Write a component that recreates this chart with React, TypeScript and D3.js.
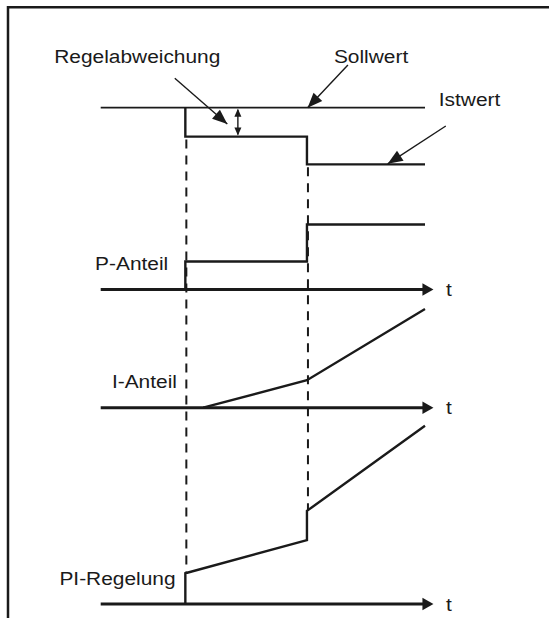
import React, { useEffect, useRef } from 'react';
import * as d3 from 'd3';

// time axis (arbitrary units)
const timeExtent = [0, 10];
const axisEndTime = 10.26;
const stepTimes = [2.61, 6.36];

// Soll-/Istwert (percent); before the first step the Istwert lies on the Sollwert
const sollwert = [{ t: 0, v: 100 }, { t: 10, v: 100 }];
const istwert = [
  { t: 2.61, v: 100 }, { t: 2.61, v: 75 },
  { t: 6.36, v: 75 }, { t: 6.36, v: 51 }, { t: 10, v: 51 },
];

// controller outputs
const pAnteil = [
  { t: 2.61, v: 0 }, { t: 2.61, v: 25 }, { t: 6.36, v: 25 },
  { t: 6.36, v: 58 }, { t: 10, v: 58 },
];
const iAnteil = [{ t: 3.16, v: 0 }, { t: 6.36, v: 24.5 }, { t: 10, v: 88 }];
const piRegelung = [
  { t: 2.61, v: 0 }, { t: 2.61, v: 27.4 }, { t: 6.36, v: 57 },
  { t: 6.36, v: 83 }, { t: 10, v: 159 },
];

const ink = '#1a1a1a';
const font = '"Liberation Sans", Arial, Helvetica, sans-serif';

export default function App() {
  const ref = useRef<SVGSVGElement | null>(null);

  useEffect(() => {
    if (!ref.current) return;
    const svg = d3.select(ref.current);
    svg.selectAll('*').remove();

    const x = d3.scaleLinear().domain(timeExtent).range([100.7, 425]);
    const ySoll = d3.scaleLinear().domain([50, 100]).range([165.5, 107.7]);
    const panel = (base: number) => d3.scaleLinear().domain([0, 60]).range([base, base - 67.3]);
    const yP = panel(289.5);
    const yI = panel(407.7);
    const yPI = panel(604);

    // frame
    svg.append('path')
      .attr('d', 'M8,618 L8,7.3 L549,7.3')
      .attr('fill', 'none').attr('stroke', ink).attr('stroke-width', 2.5);

    const label = (txt: string, lx: number, ly: number) =>
      svg.append('text')
        .attr('transform', `translate(${lx},${ly}) scale(1.1,1)`)
        .attr('font-family', font).attr('font-size', 19).attr('fill', ink)
        .text(txt);

    const arrowHead = (x0: number, y0: number, x1: number, y1: number, len: number, half: number) => {
      const a = Math.atan2(y1 - y0, x1 - x0);
      const bx = x1 - len * Math.cos(a), by = y1 - len * Math.sin(a);
      const px = -Math.sin(a) * half, py = Math.cos(a) * half;
      svg.append('path')
        .attr('d', `M${x1},${y1} L${bx + px},${by + py} L${bx - px},${by - py} Z`)
        .attr('fill', ink);
    };

    const arrow = (x0: number, y0: number, x1: number, y1: number) => {
      svg.append('line')
        .attr('x1', x0).attr('y1', y0).attr('x2', x1).attr('y2', y1)
        .attr('stroke', ink).attr('stroke-width', 1.4);
      arrowHead(x0, y0, x1, y1, 15, 6);
    };

    // dashed guide lines at the step times
    const dashEnds = [
      [istwert[1].v, piRegelung[1].v],
      [istwert[3].v, piRegelung[3].v],
    ];
    stepTimes.forEach((t, i) => {
      svg.append('line')
        .attr('x1', x(t) + 1).attr('x2', x(t) + 1)
        .attr('y1', ySoll(dashEnds[i][0]) + 3).attr('y2', yPI(dashEnds[i][1]))
        .attr('stroke', ink).attr('stroke-width', 2)
        .attr('stroke-dasharray', '9,7');
    });

    const line = (data: { t: number; v: number }[], y: d3.ScaleLinear<number, number>, w: number) =>
      svg.append('path')
        .attr('d', d3.line<{ t: number; v: number }>().x(d => x(d.t)).y(d => y(d.v))(data))
        .attr('fill', 'none').attr('stroke', ink).attr('stroke-width', w)
        .attr('stroke-linejoin', 'miter');

    // top panel
    line(sollwert, ySoll, 1.8);
    line(istwert, ySoll, 2.4);

    // double arrow = Regelabweichung
    const tDev = 4.23;
    svg.append('line')
      .attr('x1', x(tDev)).attr('x2', x(tDev))
      .attr('y1', ySoll(100) + 2).attr('y2', ySoll(75) - 2)
      .attr('stroke', ink).attr('stroke-width', 1.4);
    arrowHead(x(tDev), ySoll(87), x(tDev), ySoll(100) + 1, 8, 3.5);
    arrowHead(x(tDev), ySoll(87), x(tDev), ySoll(75) - 1, 8, 3.5);

    // axes with arrows
    [yP, yI, yPI].forEach(y => {
      const y0 = y(0);
      svg.append('line')
        .attr('x1', x(0)).attr('x2', x(axisEndTime) - 8)
        .attr('y1', y0).attr('y2', y0)
        .attr('stroke', ink).attr('stroke-width', 3);
      arrowHead(x(0), y0, x(axisEndTime), y0, 11, 6.3);
      label('t', 446, y0 + 6.7);
    });

    line(pAnteil, yP, 2.4);
    line(iAnteil, yI, 2.4);
    line(piRegelung, yPI, 2.4);

    // annotations
    label('Regelabweichung', 54.2, 63.3);
    arrow(174.8, 78.3, 227.3, 124);
    label('Sollwert', 333.9, 63.3);
    arrow(347.9, 65, x(6.38), ySoll(100));
    label('Istwert', 438.8, 106);
    arrow(445.8, 126, x(8.85), ySoll(51) - 0.5);

    label('P-Anteil', 95.1, yP(0) - 19.5);
    label('I-Anteil', 111.9, yI(0) - 19.5);
    label('PI-Regelung', 59.4, yPI(0) - 19.5);
  }, []);

  return (
    <svg
      ref={ref}
      width={549}
      height={618}
      style={{ position: 'absolute', left: 0, top: 0, background: '#fff' }}
    />
  );
}
